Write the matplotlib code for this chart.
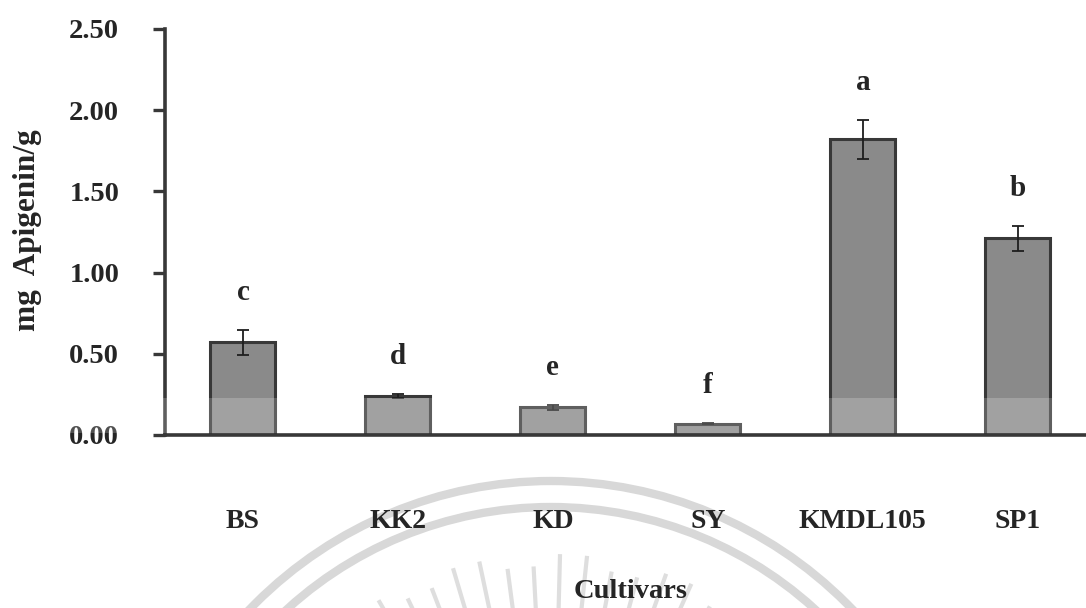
import numpy as np
import matplotlib
matplotlib.use("Agg")
import matplotlib.pyplot as plt
from matplotlib.patches import Arc, Rectangle

# Apigenin content per cultivar (mean, SD) and significance letters
cultivars = ["BS", "KK2", "KD", "SY", "KMDL105", "SP1"]
apigenin = [0.57, 0.24, 0.17, 0.07, 1.82, 1.21]
sd = [0.075, 0.012, 0.016, 0.005, 0.12, 0.075]
letters = ["c", "d", "e", "f", "a", "b"]
yticks = [0.00, 0.50, 1.00, 1.50, 2.00, 2.50]

W, H = 1086, 608
plt.rcParams["font.family"] = ["Liberation Serif", "DejaVu Serif"]
plt.rcParams["font.weight"] = "bold"
text_col = "#252525"
line_col = "#383838"

fig = plt.figure(figsize=(W / 100, H / 100), dpi=100)

# background layer in pixel units (faint seal stamped on the page)
bg = fig.add_axes([0, 0, 1, 1], zorder=-1)
bg.set_xlim(0, W)
bg.set_ylim(H, 0)
bg.axis("off")
cx, cy = 551, 899
for r in (418, 392):
    bg.add_patch(Arc((cx, cy), 2 * r, 2 * r, theta1=180, theta2=360,
                     color="#d8d8d8", lw=6))
for ang in np.arange(57, 126, 4.5):
    t = np.deg2rad(ang)
    r0, r1 = 290, 345 - 12 * (int(ang) % 2)
    bg.plot([cx + r0 * np.cos(t), cx + r1 * np.cos(t)],
            [cy - r0 * np.sin(t), cy - r1 * np.sin(t)],
            color="#dedede", lw=3, solid_capstyle="butt")

ax = fig.add_axes([165 / W, 1 - 435 / H, (W - 165) / W, (435 - 29) / H])
ax.patch.set_alpha(0)
x = np.arange(len(cultivars))
ax.bar(x, apigenin, width=0.42, color="#8a8a8a", edgecolor=line_col,
       linewidth=2.2, zorder=2)
ax.errorbar(x, apigenin, yerr=sd, fmt="none", ecolor="#1e1e1e",
            elinewidth=1.3, capsize=4.5, capthick=1.3, zorder=3)

for xi, v, e, lab in zip(x, apigenin, sd, letters):
    ax.text(xi, v + e + 0.23, lab, ha="center", va="center",
            fontsize=21, fontweight="bold", color=text_col)

ax.set_xlim(-0.503, 5.44)
ax.set_ylim(0, 2.5)
ax.set_yticks(yticks)
ax.set_yticklabels([f"{t:.2f}" for t in yticks])
ax.set_xticks(x)
ax.set_xticklabels(cultivars)

for s in ("top", "right"):
    ax.spines[s].set_visible(False)
for s in ("left", "bottom"):
    ax.spines[s].set_linewidth(2.6)
    ax.spines[s].set_color(line_col)

ax.tick_params(axis="y", length=9, width=2.4, color=line_col, pad=24,
               labelsize=20.5, labelcolor=text_col)
ax.tick_params(axis="x", length=0, pad=53, labelsize=20, labelcolor=text_col)

fig.text(28 / W, 1 - 230 / H, "mg  Apigenin/g", rotation=90, ha="center",
         va="center", fontsize=22.5, fontweight="bold", color=text_col)
fig.text(631 / W, 1 - 592 / H, "Cultivars", ha="center", va="center",
         fontsize=20.5, fontweight="bold", color=text_col)

# lighter strip across the lower part of the bars
fig.patches.append(Rectangle((40 / W, 1 - 433 / H), 1, 35 / H,
                             transform=fig.transFigure, facecolor="white",
                             alpha=0.2, edgecolor="none", zorder=10))

fig.savefig("out.png", dpi=100)
